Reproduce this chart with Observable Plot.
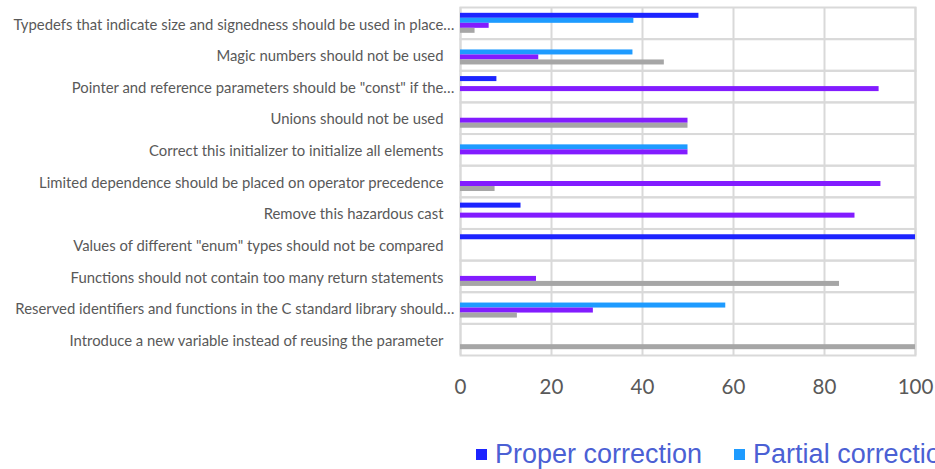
<!DOCTYPE html>
<html>
<head>
<meta charset="utf-8">
<script src="https://cdn.jsdelivr.net/npm/d3@7"></script>
<script src="https://cdn.jsdelivr.net/npm/@observablehq/plot@0.6"></script>
<style>
  html, body { margin: 0; padding: 0; background: #ffffff; width: 935px; height: 469px; overflow: hidden; }
  #chart svg { display: block; }
  .legend {
    display: flex; align-items: center; white-space: nowrap; overflow: hidden;
    margin-top: 39px; padding-left: 476px; height: 30px; line-height: 30px;
    font-family: "Liberation Sans", Arial, sans-serif; font-size: 27px; color: #4b60d4;
  }
  .legend .item { display: flex; align-items: center; margin-right: 32px; flex: none; }
  .legend .sw { width: 11px; height: 11px; margin-right: 8px; flex: none; }
</style>
</head>
<body>
<div id="chart"></div>
<div class="legend" id="legend"></div>
<script>
// Rule categories, top to bottom
const categories = [
  "Typedefs that indicate size and signedness should be used in place…",
  "Magic numbers should not be used",
  "Pointer and reference parameters should be \"const\" if the…",
  "Unions should not be used",
  "Correct this initializer to initialize all elements",
  "Limited dependence should be placed on operator precedence",
  "Remove this hazardous cast",
  "Values of different \"enum\" types should not be compared",
  "Functions should not contain too many return statements",
  "Reserved identifiers and functions in the C standard library should…",
  "Introduce a new variable instead of reusing the parameter"
];

const seriesNames = ["Proper correction", "Partial correction", "Incorrect correction", "No correction"];
const seriesColors = ["#1c24ff", "#1e9bff", "#821cff", "#a6a6a6"];

// Share of answers (%) per category for each series
const proper    = [52.4,    0,  8.0,  0,  0,    0, 13.3, 100,    0,    0,   0];
const partial   = [38.1, 37.9,    0,  0, 50,    0,    0,   0,    0, 58.3,   0];
const incorrect = [ 6.3, 17.2, 92.0, 50, 50, 92.4, 86.7,   0, 16.7, 29.2,   0];
const none      = [ 3.2, 44.8,    0, 50,  0,  7.6,    0,   0, 83.3, 12.5, 100];

const xTicks = [0, 20, 40, 60, 80, 100];

const seriesValues = [proper, partial, incorrect, none];
const rows = [];
categories.forEach((c, i) => {
  seriesNames.forEach((s, j) => {
    rows.push({category: c, series: s, value: seriesValues[j][i]});
  });
});

const truncated = categories.filter(c => c.endsWith("…"));
const full = categories.filter(c => !c.endsWith("…"));

const labelFont = "Lato, 'Open Sans', sans-serif";

const chart = Plot.plot({
  width: 935,
  height: 400,
  marginLeft: 460,
  marginRight: 20,
  marginTop: 7,
  marginBottom: 45,
  x: {domain: [0, 100], axis: null},
  y: {domain: seriesNames, axis: null, paddingInner: 0, paddingOuter: 1.16, round: false},
  fy: {domain: categories, padding: 0, axis: null, round: false},
  color: {domain: seriesNames, range: seriesColors},
  marks: [
    Plot.gridX(xTicks, {stroke: "#d9d9d9", strokeOpacity: 1, strokeWidth: 2}),
    Plot.frame({stroke: "#d9d9d9", strokeWidth: 2}),
    Plot.barX(rows.filter(d => d.value > 0), {
      x: "value", y: "series", fy: "category", fill: "series"
    }),
    Plot.axisFy({
      anchor: "left", ticks: full, tickSize: 0, tickPadding: 17, label: null, dy: 1.5,
      fontSize: 14.85, fill: "#595959", fontFamily: labelFont
    }),
    Plot.axisFy({
      anchor: "left", ticks: truncated, tickSize: 0, tickPadding: 6, label: null, dy: 1.5,
      fontSize: 14.85, fill: "#595959", fontFamily: labelFont
    }),
    Plot.axisX(xTicks, {
      facetAnchor: "bottom", tickSize: 0, tickPadding: 24, label: null,
      fontSize: 20.5, fill: "#595959", fontFamily: labelFont
    })
  ]
});
document.getElementById("chart").appendChild(chart);

const legend = document.getElementById("legend");
seriesNames.forEach((s, j) => {
  const item = document.createElement("span");
  item.className = "item";
  const sw = document.createElement("span");
  sw.className = "sw";
  sw.style.background = seriesColors[j];
  item.appendChild(sw);
  item.appendChild(document.createTextNode(s));
  legend.appendChild(item);
});
</script>
</body>
</html>
